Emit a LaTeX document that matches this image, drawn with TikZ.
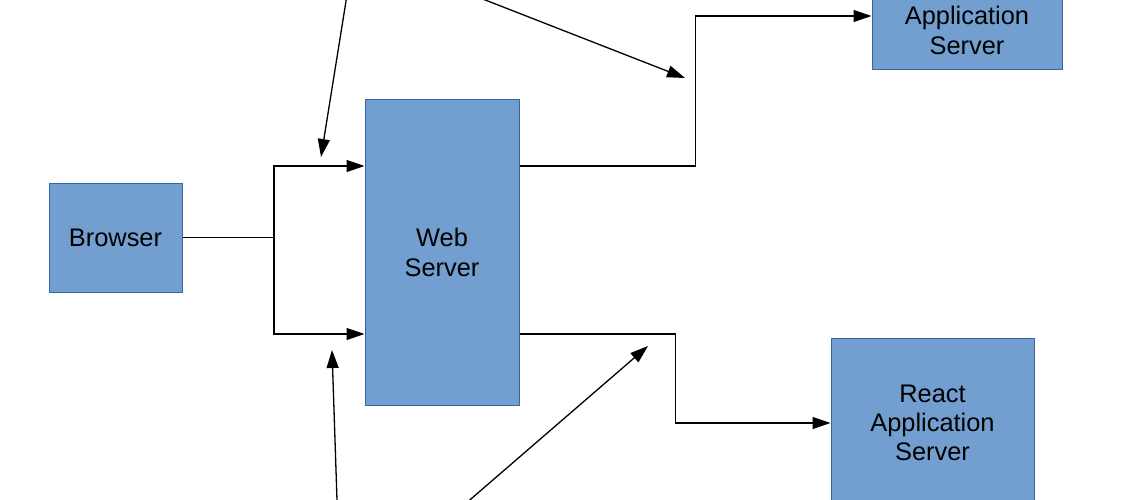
\documentclass[tikz,border=0pt]{standalone}
\usepackage{fontspec}
\setmainfont{Liberation Sans}
\usetikzlibrary{positioning,arrows.meta}
\definecolor{boxfill}{HTML}{729FCF}
\definecolor{boxline}{HTML}{3465A4}

\begin{document}
\begin{tikzpicture}[x=1pt,y=-1pt,
    srvbox/.style={fill=boxfill, draw=boxline, line width=1pt, inner sep=0pt,
                   align=center, font=\fontsize{25.4}{29.3}\selectfont},
    link/.style={line width=1.3pt, -{Triangle[length=18pt,width=12pt]}},
  ]
  \clip (0,0) rectangle (1123,500);
  \fill[white] (0,0) rectangle (1123,500);

  \node[srvbox, minimum width=133pt, minimum height=109pt] (browser) at (115.5,237.5) {Browser};
  \node[srvbox, minimum width=154pt, minimum height=305pt] (web) at (442,252.5) {Web\\Server};
  \node[srvbox, minimum width=190pt, minimum height=79pt] (app) at (967,30.5) {Application\\Server};
  \node[srvbox, minimum width=203pt, minimum height=170pt] (react) at (932.5,423) {React\\Application\\Server};

  \coordinate (split) at (274,237.5);
  \coordinate (inA) at (351,-30);
  \coordinate (tipA) at (321,157);
  \coordinate (inB) at (434,-20);
  \coordinate (tipB) at (685,78);
  \coordinate (inC) at (338,530);
  \coordinate (tipC) at (332,350);
  \coordinate (inD) at (435,530);
  \coordinate (tipD) at (648,346);

  \draw[line width=1.3pt] (browser.east) -- (split);
  \draw[link] (split) |- ([yshift=86.5pt]web.west);
  \draw[link] (split) |- ([yshift=-81.5pt]web.west);
  \draw[link] ([yshift=86.5pt]web.east) -- ++(176,0) |- ([yshift=14.5pt]app.west);
  \draw[link] ([yshift=-81.5pt]web.east) -- ++(156,0) |- (react.west);

  \draw[link] (inA) -- (tipA);
  \draw[link] (inB) -- (tipB);
  \draw[link] (inC) -- (tipC);
  \draw[link] (inD) -- (tipD);
\end{tikzpicture}
\end{document}
